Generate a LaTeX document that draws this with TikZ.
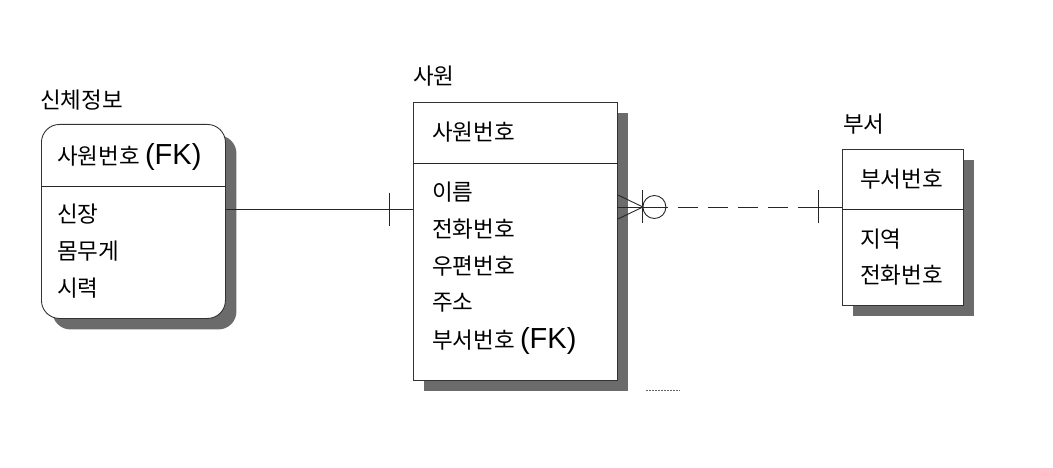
\documentclass[tikz,border=0pt]{standalone}
\usepackage{fontspec}
\newfontfamily\kr{Noto Sans CJK KR}
\newfontfamily\fk{Liberation Sans}
\usetikzlibrary{shadows}
\tikzset{
  ent/.style={draw=black!80, line width=0.9pt, fill=white, anchor=north west, inner sep=0pt,
    drop shadow={shadow xshift=11pt, shadow yshift=-11pt, fill=black!58, opacity=1}},
  txt/.style={anchor=west, inner sep=0pt, font=\kr\fontsize{22.5}{24}\selectfont},
  ttl/.style={anchor=west, inner sep=0pt, font=\kr\fontsize{22.5}{24}\selectfont},
  rel/.style={line width=0.9pt, draw=black!85},
}
\newcommand{\FKx}{{\fk\fontsize{29}{30}\selectfont (FK)}}
\begin{document}
\begin{tikzpicture}[x=1pt,y=-1pt]
\useasboundingbox (0,0) rectangle (1053,468);
% entities
\node[ent, rounded corners=18pt, minimum width=184pt, minimum height=194pt] (phys) at (41,124) {};
\node[ent, minimum width=204pt, minimum height=278pt] (emp) at (413,102) {};
\node[ent, minimum width=121pt, minimum height=156pt] (dept) at (842,149) {};
% dividers
\draw[rel] (phys.west |- 0,186) -- (phys.east |- 0,186);
\draw[rel] (emp.west |- 0,163) -- (emp.east |- 0,163);
\draw[rel] (dept.west |- 0,209) -- (dept.east |- 0,209);
% titles
\node[ttl] (t1) at (40,100) {신체정보};
\node[ttl] (t2) at (413,76) {사원};
\node[ttl] (t3) at (843,124) {부서};
% attributes
\node[txt] (p1) at (57,157) {사원번호 \FKx};
\node[txt] (p2) at (57,214) {신장};
\node[txt] (p3) at (57,251) {몸무게};
\node[txt] (p4) at (57,288) {시력};
\node[txt] (e1) at (432,132) {사원번호};
\node[txt] (e2) at (432,192) {이름};
\node[txt] (e3) at (432,229) {전화번호};
\node[txt] (e4) at (432,266) {우편번호};
\node[txt] (e5) at (432,303) {주소};
\node[txt] (e6) at (432,341) {부서번호 \FKx};
\node[txt] (d1) at (860,179) {부서번호};
\node[txt] (d2) at (860,239) {지역};
\node[txt] (d3) at (860,275) {전화번호};
% relation 1: 신체정보 -- 사원
\coordinate (r1a) at (phys.east |- 0,209);
\coordinate (r1b) at (emp.west |- 0,209);
\draw[rel] (r1a) -- (r1b);
\draw[rel] ([xshift=-24pt]r1b) ++(0,-16) -- ++(0,33);
% relation 2: 사원 -- 부서
\coordinate (r2a) at (emp.east |- 0,207);
\coordinate (r2b) at (dept.west |- 0,207);
\coordinate (cf) at ([xshift=25pt]r2a);
\draw[rel] ([yshift=-12pt]r2a) -- (cf) -- ([yshift=12pt]r2a);
\draw[rel] (r2a) -- (cf);
\draw[rel] (cf) ++(0,-17) -- ++(0,33);
\draw[rel] ([xshift=11.5pt]cf) circle (11.5pt);
\draw[rel] (cf) -- ([xshift=25pt]cf);
\draw[rel, dash pattern=on 20pt off 10pt] ([xshift=35pt]cf) -- ([xshift=-32pt]r2b);
\draw[rel] ([xshift=-32pt]r2b) -- (r2b);
\draw[rel] ([xshift=-24pt]r2b) ++(0,-17) -- ++(0,33);
% stray dotted mark
\coordinate (s1) at (646,390);
\coordinate (s2) at (680,390);
\draw[line width=0.8pt, draw=black!60, dash pattern=on 1.5pt off 1.5pt] (s1) -- (s2);
\end{tikzpicture}
\end{document}
